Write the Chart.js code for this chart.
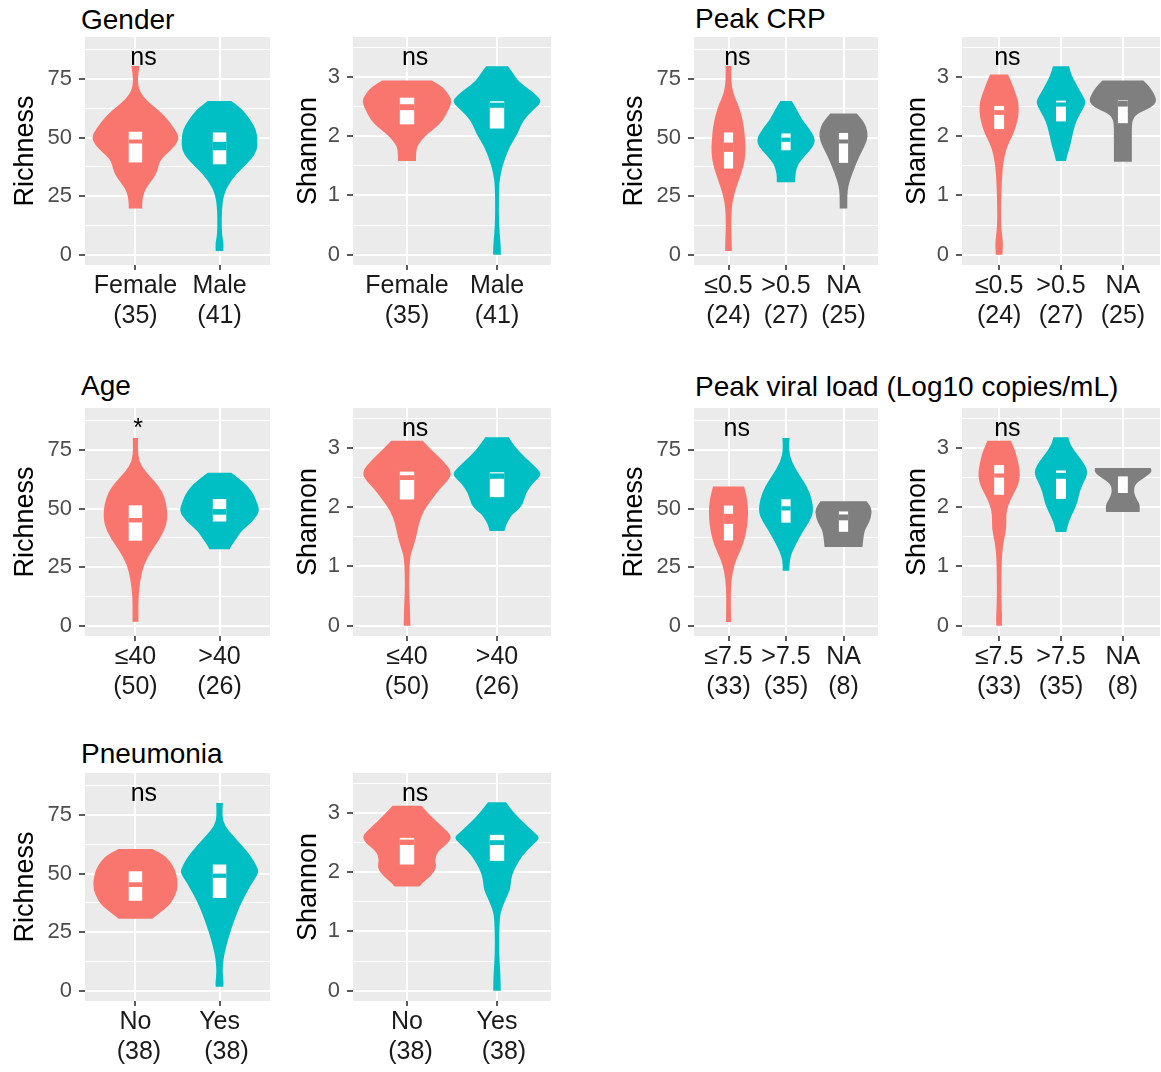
<!DOCTYPE html>
<html lang="en">
<head>
  <meta charset="UTF-8" />
  <title>Alpha diversity by clinical group</title>
  <script src="https://cdn.jsdelivr.net/npm/chart.js"></script>
  <style>
    html, body { margin: 0; padding: 0; background: #fff; overflow: hidden; }
    #page { position: relative; width: 1161px; height: 1072px; }
    #page canvas { position: absolute; }
    .group-title { position: absolute; font: 28px/28px "Liberation Sans", Arial, sans-serif; color: #000; white-space: nowrap; }
  </style>
</head>
<body>
  <div id="page">
    <div class="group-title" style="left:81px;top:6px">Gender</div>
    <div class="group-title" style="left:695px;top:5px">Peak CRP</div>
    <div class="group-title" style="left:81px;top:372px">Age</div>
    <div class="group-title" style="left:695px;top:373px">Peak viral load (Log10 copies/mL)</div>
    <div class="group-title" style="left:81px;top:740px">Pneumonia</div>
  </div>

  <script>
    // ---- tick labels / categories ----
    const richTicks = [0, 12.5, 25, 37.5, 50, 62.5, 75, 87.5];
    const shanTicks = [0, 0.5, 1, 1.5, 2, 2.5, 3, 3.5];
    const genderCats = [['Female', '(35)'], ['Male', '(41)']];
    const crpCats = [['\u22640.5', '(24)'], ['>0.5', '(27)'], ['NA', '(25)']];
    const ageCats = [['\u226440', '(50)'], ['>40', '(26)']];
    const viralCats = [['\u22647.5', '(33)'], ['>7.5', '(35)'], ['NA', '(8)']];
    const pneuCats = [['No', ' (38)'], ['Yes', '  (38)']];

    // ---- violin outlines: [value, half width in category units], bottom to top ----
    const genderRichFemale = [[19.7,0.08],[22,0.08],[25,0.09],[28,0.12],[31,0.18],[34,0.24],[37,0.27],[40,0.29],[42,0.34],[44,0.40],[47,0.48],[50,0.52],[53,0.48],[57,0.40],[61,0.30],[65,0.16],[68.5,0.07],[72,0.032],[76,0.028],[80.6,0.048]];
    const genderRichMale = [[1.6,0.045],[5,0.05],[8,0.03],[15,0.024],[22,0.035],[25,0.05],[29,0.09],[34.6,0.2],[40.4,0.37],[44.6,0.45],[49,0.45],[53,0.44],[57.5,0.37],[61.7,0.28],[63.5,0.22],[65.7,0.14]];
    const genderShanFemale = [[1.58,0.1],[1.7,0.1],[1.82,0.11],[1.93,0.16],[2.04,0.23],[2.16,0.33],[2.27,0.40],[2.44,0.46],[2.58,0.50],[2.69,0.47],[2.83,0.40],[2.94,0.276]];
    const genderShanMale = [[0,0.043],[0.13,0.043],[0.35,0.03],[0.64,0.02],[1.14,0.022],[1.37,0.04],[1.59,0.08],[1.82,0.14],[2.04,0.23],[2.27,0.29],[2.44,0.40],[2.58,0.5],[2.69,0.44],[2.8,0.35],[2.92,0.24],[3.06,0.18],[3.18,0.12]];

    const crpRichLow = [[1.6,0.057],[6.1,0.057],[11.8,0.045],[20.4,0.055],[26.1,0.1],[31.8,0.18],[37.5,0.26],[43.2,0.30],[48.9,0.29],[54.6,0.27],[60.3,0.22],[64.6,0.16],[68.9,0.08],[74.6,0.045],[80.6,0.05]];
    const crpRichHigh = [[30.9,0.16],[34.6,0.16],[38.9,0.21],[42.5,0.34],[46,0.47],[48.9,0.51],[51.8,0.46],[54.6,0.38],[57,0.3],[59.6,0.24],[63.2,0.16],[65.7,0.1]];
    const crpRichNA = [[19.7,0.066],[23.2,0.066],[27.5,0.07],[31.8,0.11],[37.5,0.2],[41.8,0.27],[46,0.36],[50.3,0.43],[54.6,0.4],[57.5,0.33],[60.3,0.23]];
    const crpShanLow = [[0,0.053],[0.11,0.06],[0.25,0.06],[0.48,0.03],[0.93,0.032],[1.37,0.05],[1.65,0.08],[1.88,0.15],[2.03,0.23],[2.26,0.3],[2.43,0.32],[2.6,0.31],[2.77,0.25],[2.91,0.2],[3.04,0.145]];
    const crpShanHigh = [[1.58,0.08],[1.71,0.11],[1.88,0.16],[2.05,0.19],[2.27,0.25],[2.43,0.34],[2.58,0.41],[2.72,0.33],[2.89,0.24],[3.03,0.17],[3.18,0.13]];
    const crpShanNA = [[1.57,0.145],[1.71,0.145],[1.93,0.145],[2.21,0.145],[2.3,0.17],[2.38,0.23],[2.49,0.47],[2.58,0.54],[2.66,0.53],[2.83,0.44],[2.94,0.33]];

    const ageRichYoung = [[1.7,0.035],[6.3,0.035],[12,0.035],[19.1,0.055],[26.2,0.1],[31.9,0.19],[37.6,0.3],[43.1,0.37],[47.4,0.38],[51.7,0.37],[57.4,0.32],[61.6,0.23],[65.9,0.12],[70.2,0.04],[75.8,0.028],[80.2,0.032]];
    const ageRichOld = [[32.6,0.12],[34.7,0.15],[37.6,0.21],[40.4,0.26],[44.7,0.4],[49,0.48],[53.1,0.44],[57.4,0.39],[61.6,0.28],[65.3,0.14]];
    const ageShanYoung = [[0,0.037],[0.31,0.033],[0.65,0.022],[1.14,0.03],[1.31,0.065],[1.48,0.1],[1.71,0.13],[1.93,0.18],[2.16,0.29],[2.32,0.37],[2.49,0.48],[2.61,0.49],[2.77,0.41],[2.94,0.29],[3.12,0.175]];
    const ageShanOld = [[1.6,0.083],[1.71,0.1],[1.88,0.17],[1.93,0.22],[2.05,0.29],[2.24,0.32],[2.41,0.4],[2.55,0.5],[2.66,0.44],[2.83,0.32],[3.0,0.21],[3.18,0.13]];

    const viralRichLow = [[1.6,0.044],[8.8,0.04],[15.9,0.04],[23,0.07],[28.6,0.14],[34.3,0.25],[40,0.31],[45.7,0.34],[51.3,0.34],[55.7,0.31],[59.5,0.27]];
    const viralRichHigh = [[23.4,0.057],[28.6,0.06],[34.3,0.16],[40,0.29],[44.2,0.4],[48.5,0.48],[54.2,0.45],[59.8,0.36],[64.1,0.24],[69.8,0.1],[75.4,0.046],[80.2,0.063]];
    const viralRichNA = [[33.6,0.33],[38.6,0.35],[41.4,0.38],[44.2,0.45],[48.5,0.5],[51.3,0.46],[53.2,0.4]];
    const viralShanLow = [[0,0.045],[0.12,0.05],[0.46,0.035],[1.13,0.04],[1.42,0.07],[1.64,0.12],[1.87,0.11],[2.04,0.15],[2.2,0.22],[2.37,0.31],[2.54,0.34],[2.71,0.32],[2.93,0.27],[3.12,0.19]];
    const viralShanHigh = [[1.58,0.085],[1.75,0.12],[1.92,0.2],[2.09,0.27],[2.26,0.3],[2.43,0.37],[2.57,0.44],[2.71,0.39],[2.88,0.27],[3.05,0.15],[3.18,0.12]];
    const viralShanNA = [[1.92,0.27],[2.04,0.28],[2.12,0.23],[2.26,0.17],[2.4,0.2],[2.51,0.37],[2.6,0.47],[2.66,0.45]];

    const pneuRichNo = [[30.7,0.2],[33.2,0.29],[36.1,0.39],[38.9,0.45],[43.2,0.5],[47.5,0.5],[51.8,0.47],[55.3,0.41],[58.2,0.33],[60.5,0.2]];
    const pneuRichYes = [[1.7,0.045],[3.4,0.05],[7.7,0.035],[13.4,0.045],[19.1,0.08],[24.8,0.125],[30.5,0.18],[36.1,0.24],[41.8,0.32],[46.2,0.39],[50.5,0.47],[53.3,0.44],[57.6,0.37],[61.9,0.27],[66.2,0.16],[70.4,0.06],[74.7,0.032],[80.2,0.04]];
    const pneuShanNo = [[1.76,0.14],[1.83,0.18],[1.93,0.26],[2.07,0.33],[2.21,0.31],[2.35,0.34],[2.49,0.46],[2.61,0.5],[2.77,0.39],[2.94,0.27],[3.12,0.16]];
    const pneuShanYes = [[0,0.042],[0.25,0.04],[0.65,0.022],[1.21,0.028],[1.38,0.05],[1.55,0.1],[1.72,0.15],[1.88,0.155],[2.05,0.19],[2.28,0.28],[2.45,0.39],[2.58,0.48],[2.66,0.42],[2.83,0.3],[3.0,0.19],[3.18,0.1]];

    // ---- box summaries: [lower, median band low, median band high, upper] ----
    const genderRichBoxes = [[39.4,47.5,49.2,52.5],[38.6,44.6,48.2,52.2]];
    const genderShanBoxes = [[2.2,2.44,2.54,2.65],[2.13,2.48,2.566,2.59]];
    const crpRichBoxes = [[36.8,43.9,47.9,52.2],[44.6,48.2,50,51.8],[39.2,47.5,49.2,52]];
    const crpShanBoxes = [[2.12,2.36,2.44,2.51],[2.25,2.5,2.57,2.6],[2.22,2.5,2.6,2.61]];
    const ageRichBoxes = [[36.3,44.1,46,51.4],[44.5,47.4,49.8,54.1]];
    const ageShanBoxes = [[2.13,2.46,2.54,2.6],[2.17,2.48,2.57,2.59]];
    const viralRichBoxes = [[36.4,43.5,47.8,51.3],[44,49.2,51,54],[40.1,45,47.5,48.8]];
    const viralShanBoxes = [[2.21,2.5,2.57,2.71],[2.14,2.48,2.58,2.62],[2.24,2.52,2.52,2.52]];
    const pneuRichBoxes = [[38.4,44.3,46.3,51],[39.6,48.2,50,53.9]];
    const pneuShanBoxes = [[2.13,2.46,2.55,2.58],[2.19,2.46,2.54,2.63]];

    // significance label heights
    const richLabelY = 84;
    const shanLabelY = 3.32;

    const COLORS = ['#F8766D', '#00BFC4', '#7F7F7F'];
    const FONT = '"Liberation Sans", Arial, sans-serif';
    Chart.defaults.font.family = FONT;

    // panel geometry (pixels)
    const cols = [{ left: 85, w: 185 }, { left: 353, w: 198 }, { left: 694, w: 184 }, { left: 962, w: 198 }];
    const rows = [37, 408, 773];
    const PANEL_H = 228, AXIS_H = 70;

    const kinds = {
      rich: { title: 'Richness', min: -4.43, max: 93.0, ticks: richTicks, major: 25, axisW: 76, labelY: richLabelY },
      shan: { title: 'Shannon', min: -0.175, max: 3.675, ticks: shanTicks, major: 1, axisW: 61, labelY: shanLabelY }
    };

    const panels = [
      { row: 0, col: 0, kind: 'rich', cats: genderCats, shapes: [genderRichFemale, genderRichMale], boxes: genderRichBoxes, label: 'ns', labelX: 1.095 },
      { row: 0, col: 1, kind: 'shan', cats: genderCats, shapes: [genderShanFemale, genderShanMale], boxes: genderShanBoxes, label: 'ns', labelX: 1.09 },
      { row: 0, col: 2, kind: 'rich', cats: crpCats, shapes: [crpRichLow, crpRichHigh, crpRichNA], boxes: crpRichBoxes, label: 'ns', labelX: 1.155 },
      { row: 0, col: 3, kind: 'shan', cats: crpCats, shapes: [crpShanLow, crpShanHigh, crpShanNA], boxes: crpShanBoxes, label: 'ns', labelX: 1.133 },
      { row: 1, col: 0, kind: 'rich', cats: ageCats, shapes: [ageRichYoung, ageRichOld], boxes: ageRichBoxes, label: '*', labelX: 1.032 },
      { row: 1, col: 1, kind: 'shan', cats: ageCats, shapes: [ageShanYoung, ageShanOld], boxes: ageShanBoxes, label: 'ns', labelX: 1.09 },
      { row: 1, col: 2, kind: 'rich', cats: viralCats, shapes: [viralRichLow, viralRichHigh, viralRichNA], boxes: viralRichBoxes, label: 'ns', labelX: 1.143 },
      { row: 1, col: 3, kind: 'shan', cats: viralCats, shapes: [viralShanLow, viralShanHigh, viralShanNA], boxes: viralShanBoxes, label: 'ns', labelX: 1.133 },
      { row: 2, col: 0, kind: 'rich', cats: pneuCats, shapes: [pneuRichNo, pneuRichYes], boxes: pneuRichBoxes, label: 'ns', labelX: 1.1 },
      { row: 2, col: 1, kind: 'shan', cats: pneuCats, shapes: [pneuShanNo, pneuShanYes], boxes: pneuShanBoxes, label: 'ns', labelX: 1.09 }
    ];

    // draws a path through the points, rounding the corners a little
    function smoothPath(ctx, pts, first) {
      pts.forEach((p, j) => {
        if (j === 0) { first ? ctx.moveTo(p[0], p[1]) : ctx.lineTo(p[0], p[1]); return; }
        if (j === pts.length - 1) { ctx.lineTo(p[0], p[1]); return; }
        const n = pts[j + 1];
        ctx.quadraticCurveTo(p[0], p[1], (p[0] + n[0]) / 2, (p[1] + n[1]) / 2);
      });
    }

    const panelBg = {
      id: 'panelBg',
      beforeDraw(chart) {
        const { ctx, chartArea: a } = chart;
        ctx.save();
        ctx.fillStyle = '#EBEBEB';
        ctx.fillRect(a.left, a.top, a.width, a.height);
        ctx.restore();
      }
    };

    const violins = {
      id: 'violins',
      beforeDatasetsDraw(chart, args, opts) {
        const { ctx, chartArea: a, scales: { x, y } } = chart;
        ctx.save();
        ctx.beginPath();
        ctx.rect(a.left, a.top, a.width, a.height);
        ctx.clip();
        opts.shapes.forEach((shape, i) => {
          const c = i + 1;
          const right = shape.map(([v, w]) => [x.getPixelForValue(c + w), y.getPixelForValue(v)]);
          const left = shape.slice().reverse().map(([v, w]) => [x.getPixelForValue(c - w), y.getPixelForValue(v)]);
          ctx.beginPath();
          smoothPath(ctx, right, true);
          smoothPath(ctx, left, false);
          ctx.closePath();
          ctx.fillStyle = opts.colors[i];
          ctx.fill();
        });
        opts.boxes.forEach(([lo, mlo, mhi, hi], i) => {
          const x0 = x.getPixelForValue(i + 1 - opts.boxHalf);
          const x1 = x.getPixelForValue(i + 1 + opts.boxHalf);
          ctx.fillStyle = '#FFFFFF';
          ctx.fillRect(x0, y.getPixelForValue(hi), x1 - x0, y.getPixelForValue(lo) - y.getPixelForValue(hi));
          ctx.fillStyle = opts.colors[i];
          ctx.fillRect(x0, y.getPixelForValue(mhi), x1 - x0, y.getPixelForValue(mlo) - y.getPixelForValue(mhi));
        });
        ctx.restore();
      },
      afterDatasetsDraw(chart, args, opts) {
        const { ctx, scales: { x, y } } = chart;
        ctx.save();
        ctx.font = '25px ' + FONT;
        ctx.fillStyle = '#000';
        ctx.textAlign = 'center';
        ctx.textBaseline = 'middle';
        ctx.fillText(opts.label, x.getPixelForValue(opts.labelX), y.getPixelForValue(opts.labelY));
        ctx.restore();
      }
    };

    const page = document.getElementById('page');

    panels.forEach(p => {
      const k = kinds[p.kind];
      const col = cols[p.col];
      const canvas = document.createElement('canvas');
      const w = k.axisW + col.w;
      const h = PANEL_H + AXIS_H;
      canvas.width = w;
      canvas.height = h;
      canvas.style.left = (col.left - k.axisW) + 'px';
      canvas.style.top = rows[p.row] + 'px';
      canvas.style.width = w + 'px';
      canvas.style.height = h + 'px';
      page.appendChild(canvas);

      const isMajor = v => Math.abs(v / k.major - Math.round(v / k.major)) < 1e-6;

      new Chart(canvas, {
        type: 'scatter',
        data: { datasets: [] },
        options: {
          responsive: false,
          animation: false,
          events: [],
          layout: { padding: 0 },
          plugins: {
            legend: { display: false },
            tooltip: { enabled: false },
            violins: {
              shapes: p.shapes,
              boxes: p.boxes,
              colors: COLORS,
              boxHalf: 0.08,
              label: p.label,
              labelX: p.labelX,
              labelY: k.labelY
            }
          },
          scales: {
            x: {
              type: 'linear',
              min: 0.4,
              max: p.cats.length + 0.6,
              border: { display: false },
              grid: { color: '#FFFFFF', lineWidth: 2, tickLength: 5, tickColor: '#333333', tickWidth: 1.6 },
              ticks: {
                autoSkip: false,
                maxRotation: 0,
                minRotation: 0,
                padding: 1,
                color: '#1A1A1A',
                font: { size: 25, lineHeight: 1.2 },
                callback: v => p.cats[Math.round(v) - 1]
              },
              afterBuildTicks: s => { s.ticks = p.cats.map((c, i) => ({ value: i + 1 })); },
              afterFit: s => { s.height = AXIS_H; s.paddingLeft = 0; s.paddingRight = 0; s.paddingTop = 0; s.paddingBottom = 0; }
            },
            y: {
              type: 'linear',
              min: k.min,
              max: k.max,
              border: { display: false },
              title: { display: true, text: k.title, color: '#000', padding: 0, font: { size: 27, lineHeight: 1.2 } },
              grid: {
                color: '#FFFFFF',
                lineWidth: c => (c.tick && isMajor(c.tick.value)) ? 2 : 1,
                tickLength: 6,
                tickColor: c => (c.tick && isMajor(c.tick.value)) ? '#333333' : 'rgba(0,0,0,0)',
                tickWidth: 1.6
              },
              ticks: {
                padding: 7,
                color: '#4D4D4D',
                font: { size: 22 },
                callback: v => isMajor(v) ? String(v) : ''
              },
              afterBuildTicks: s => { s.ticks = k.ticks.map(v => ({ value: v })); },
              afterFit: s => { s.width = k.axisW; s.paddingLeft = 0; s.paddingRight = 0; s.paddingTop = 0; s.paddingBottom = 0; }
            }
          }
        },
        plugins: [panelBg, violins]
      });
    });
  </script>
</body>
</html>
